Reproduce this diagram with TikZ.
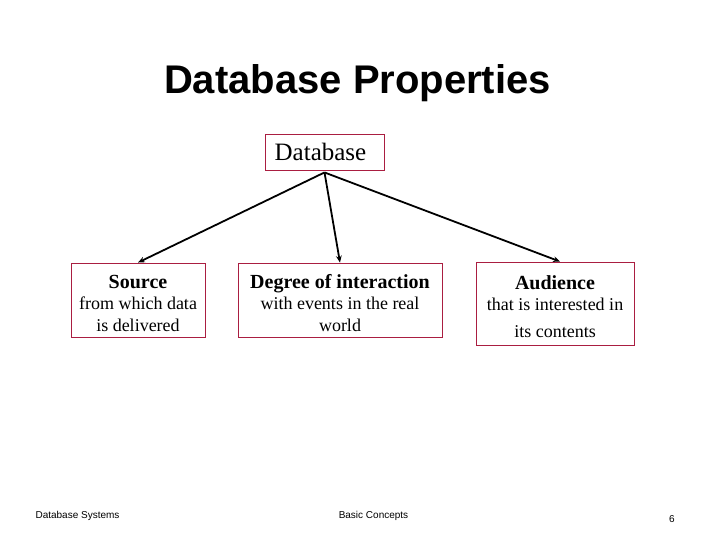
\documentclass[tikz,border=0pt]{standalone}
\usepackage{fontspec}
\setmainfont{Liberation Serif}
\newfontfamily\arialfont{Liberation Sans}
\usepackage{tikz}
\usetikzlibrary{arrows.meta,positioning}
\definecolor{bRed}{RGB}{170,30,65}
\newcommand{\boxhead}[1]{{\fontsize{20}{21.5}\selectfont\bfseries\rule{0pt}{20pt}#1}}

\begin{document}
\begin{tikzpicture}[x=1pt,y=-1pt,
  box/.style={draw=bRed,line width=0.9pt,align=center,inner sep=0pt,
    font=\fontsize{18}{21.5}\selectfont},
  foot/.style={anchor=base,inner sep=0pt,font=\arialfont\fontsize{10}{12}\selectfont},
  a/.style={-{Stealth[length=2.4mm,width=2mm]},line width=1.8pt,black}]
  \useasboundingbox (0,0) rectangle (717,538);
  \node[anchor=base,inner sep=0pt,font=\arialfont\bfseries\fontsize{40}{48}\selectfont]
    (title) at (357.5,93) {Database Properties};
  \node[box,minimum width=119pt,minimum height=36pt,font=\fontsize{25}{30}\selectfont]
    (db) at (324.5,152) {Database\hspace*{8pt}};
  \node[box,minimum width=134pt,minimum height=74pt] (src) at (138,300)
    {\boxhead{Source}\\from which data\\is delivered};
  \node[box,minimum width=204pt,minimum height=74pt] (deg) at (340,300)
    {\boxhead{Degree of interaction}\\with events in the real\\world};
  \node[box,minimum width=158pt,minimum height=83pt] (aud) at (555,303.5)
    {\boxhead{Audience}\\that is interested in\\[5pt]its contents};
  \coordinate (hub) at ([yshift=-2pt]db.south);
  \draw[a] (hub) -- (src.north);
  \draw[a] (hub) -- (deg.north);
  \draw[a] (hub) -- ([xshift=5pt]aud.north);
  % footer
  \node[foot] (sys) at (77.5,518) {Database Systems};
  \node[foot] (chap) at (373.5,518) {Basic Concepts};
  \node[foot] (page) at (672,522) {6};
\end{tikzpicture}
\end{document}
